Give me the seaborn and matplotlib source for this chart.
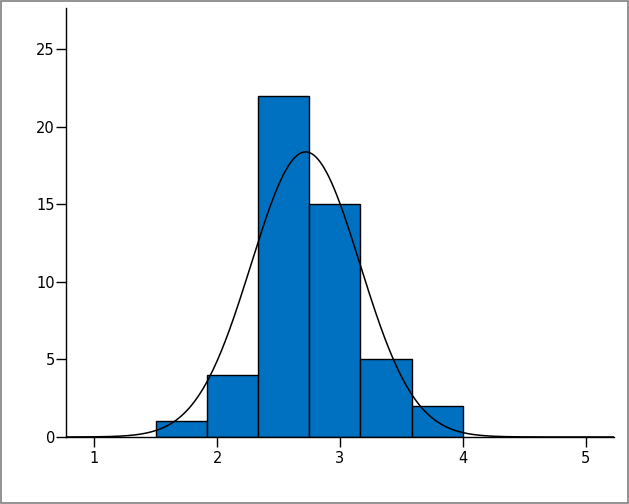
import matplotlib
matplotlib.use("Agg")
import matplotlib.pyplot as plt
import numpy as np
import pandas as pd
import seaborn as sns

# histogram bins (SPSS style) and counts
bin_edges = [1.5, 1.9167, 2.3333, 2.75, 3.1667, 3.5833, 4.0]
counts = [1, 4, 22, 15, 5, 2]

# fitted normal curve parameters
mean_val = 2.72
std_val = 0.443
n_total = sum(counts)

x_ticks = [1, 2, 3, 4, 5]
y_ticks = [0, 5, 10, 15, 20, 25]

sns.set_style("white")
plt.rcParams["font.family"] = ["DejaVu Sans"]

fig = plt.figure(figsize=(6.29, 5.04), dpi=100)
ax = fig.add_axes([0.105, 0.133, 0.871, 0.852])

centers = [(a + b) / 2 for a, b in zip(bin_edges[:-1], bin_edges[1:])]
df = pd.DataFrame({"value": centers, "count": counts})
sns.histplot(data=df, x="value", weights="count", bins=bin_edges,
             color="#0070C0", edgecolor="black", linewidth=1.0, alpha=1,
             ax=ax)

bw = bin_edges[1] - bin_edges[0]
xs = np.linspace(0.77, 5.23, 400)
ys = n_total * bw / (std_val * np.sqrt(2 * np.pi)) * np.exp(-0.5 * ((xs - mean_val) / std_val) ** 2)
sns.lineplot(x=xs, y=ys, color="black", linewidth=1.1, ax=ax)

ax.set_xlim(0.77, 5.23)
ax.set_ylim(0, 27.7)
ax.set_xticks(x_ticks)
ax.set_yticks(y_ticks)
ax.set_xlabel("")
ax.set_ylabel("")
sns.despine(ax=ax)
for side in ["left", "bottom"]:
    ax.spines[side].set_color("black")
    ax.spines[side].set_linewidth(1.0)
ax.tick_params(axis="both", direction="out", length=7, width=1,
               color="black", labelsize=10.5, labelcolor="black",
               bottom=True, left=True)
ax.tick_params(axis="x", pad=3)
ax.tick_params(axis="y", pad=1)

# outer gray frame
fig.patches.append(plt.Rectangle((0.001, 0.001), 0.998, 0.997, transform=fig.transFigure,
                                 fill=False, edgecolor="#808080", linewidth=1.2))

fig.savefig("out.png", dpi=100)
